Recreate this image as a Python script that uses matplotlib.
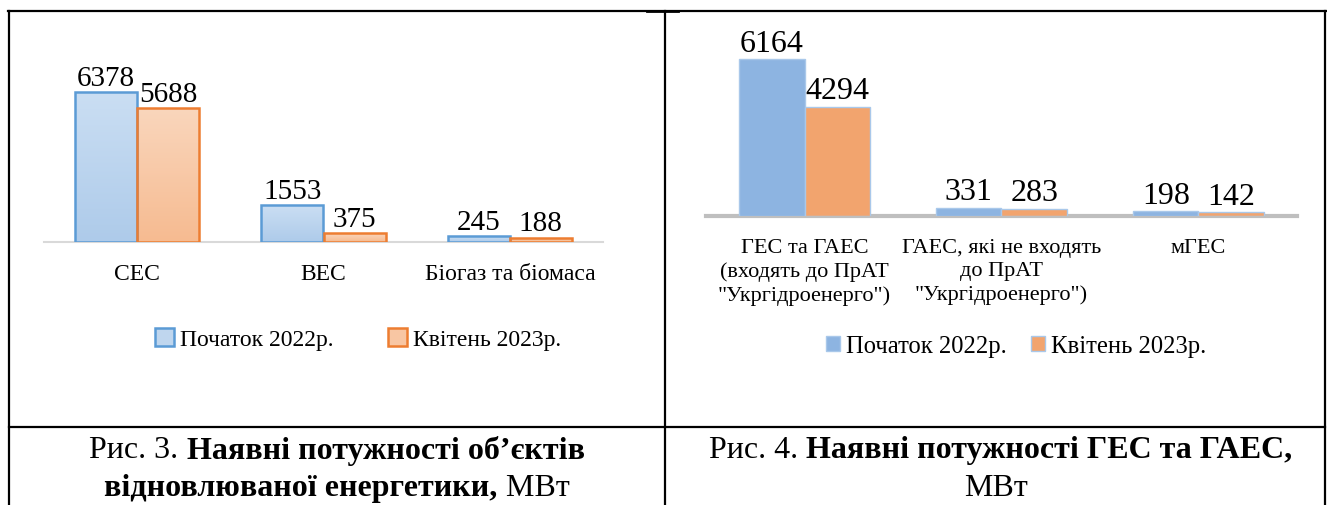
import numpy as np
import matplotlib
matplotlib.use("Agg")
import matplotlib.pyplot as plt
from matplotlib.lines import Line2D
from matplotlib.patches import Patch
from matplotlib.colors import LinearSegmentedColormap

# ---------------- data ----------------
left_categories = ["СЕС", "ВЕС", "Біогаз та біомаса"]
left_start_2022 = [6378, 1553, 245]
left_april_2023 = [5688, 375, 188]

right_categories = ["ГЕС та ГАЕС\n(входять до ПрАТ\n\"Укргідроенерго\")",
                    "ГАЕС, які не входять\nдо ПрАТ\n\"Укргідроенерго\")",
                    "мГЕС"]
right_start_2022 = [6164, 331, 198]
right_april_2023 = [4294, 283, 142]

series_names = ["Початок 2022р.", "Квітень 2023р."]

caption_left = [[("Рис. 3. ", "normal"), ("Наявні потужності об’єктів", "bold")],
                [("відновлюваної енергетики,", "bold"), (" МВт", "normal")]]
caption_right = [[("Рис. 4. ", "normal"), ("Наявні потужності ГЕС та ГАЕС,", "bold")],
                 [("МВт", "normal")]]

# ---------------- figure ----------------
W, H = 1327, 506
DPI = 100
plt.rcParams['font.family'] = ['Liberation Serif', 'DejaVu Serif']
fig = plt.figure(figsize=(W / DPI, H / DPI), dpi=DPI)
fig.patch.set_facecolor("white")


def px_axes(x0, x1, y_top, y_base):
    return fig.add_axes([x0 / W, 1 - y_base / H, (x1 - x0) / W, (y_base - y_top) / H])


def style_axes(ax, base_color, base_lw):
    for s in ax.spines.values():
        s.set_visible(False)
    ax.set_yticks([])
    ax.set_xlim(-0.5, 2.5)
    ax.axhline(0, color=base_color, lw=base_lw, zorder=1, clip_on=False)
    ax.tick_params(axis="x", length=0)
    ax.patch.set_alpha(0)


def gradient_fill(ax, container, c_top, c_bot):
    cmap = LinearSegmentedColormap.from_list("g", [c_bot, c_top])
    grad = np.linspace(0, 1, 64).reshape(-1, 1)
    for p in container.patches:
        x, y = p.get_x(), p.get_y()
        w, h = p.get_width(), p.get_height()
        im = ax.imshow(grad, cmap=cmap, origin="lower", aspect="auto",
                       extent=[x, x + w, y, y + h], zorder=p.get_zorder() - 0.1,
                       interpolation="bilinear")
        im.set_clip_path(p)
    ax.set_aspect("auto")


bw = 0.333

# ---- left chart ----
left_y_top, left_base = 20, 243
left_scale = (243 - 93) / 6378.0  # px per unit
axL = px_axes(44, 603, left_y_top, left_base)
style_axes(axL, "#d9d9d9", 1.5)
xL = np.arange(len(left_categories))
bL1 = axL.bar(xL - bw / 2, left_start_2022, bw, facecolor="none",
              edgecolor="#5b9bd5", linewidth=1.8, zorder=3, label=series_names[0])
bL2 = axL.bar(xL + bw / 2, left_april_2023, bw, facecolor="none",
              edgecolor="#ed7d31", linewidth=1.8, zorder=3, label=series_names[1])
gradient_fill(axL, bL1, "#cadef3", "#aecbea")
gradient_fill(axL, bL2, "#fad6bc", "#f6bb91")
axL.set_xlim(-0.5, 2.5)
axL.set_ylim(0, (left_base - left_y_top) / left_scale)
axL.set_xticks(xL)
axL.set_xticklabels(left_categories, fontsize=17)
axL.tick_params(axis="x", pad=15)
axL.bar_label(bL1, fontsize=21, padding=1)
axL.bar_label(bL2, fontsize=21, padding=1)

hL = [Patch(facecolor="#bfd6ee", edgecolor="#5b9bd5", linewidth=1.8),
      Patch(facecolor="#f8c6a3", edgecolor="#ed7d31", linewidth=1.8)]
fig.legend(hL, series_names, loc="center", bbox_to_anchor=(358 / W, 1 - 340 / H),
           ncol=2, frameon=False, fontsize=17, handlelength=0.8, handleheight=0.8,
           handletextpad=0.25, columnspacing=2.3, borderaxespad=0, borderpad=0)

# ---- right chart ----
right_y_top, right_base = 20, 217
right_scale = (217 - 60) / 6164.0
axR = px_axes(706, 1297, right_y_top, right_base)
style_axes(axR, "#bfbfbf", 3)
xR = np.arange(len(right_categories))
bR1 = axR.bar(xR - bw / 2, right_start_2022, bw, color="#8db4e1",
              edgecolor="#a9c8ea", linewidth=1.0, zorder=3, label=series_names[0])
bR2 = axR.bar(xR + bw / 2, right_april_2023, bw, color="#f2a46e",
              edgecolor="#a9c8ea", linewidth=1.0, zorder=3, label=series_names[1])
axR.set_ylim(0, (right_base - right_y_top) / right_scale)
axR.set_xticks(xR)
axR.set_xticklabels(right_categories, fontsize=16, linespacing=1.28, va="top")
axR.tick_params(axis="x", pad=16)
axR.bar_label(bR1, fontsize=23, padding=1)
axR.bar_label(bR2, fontsize=23, padding=1)
fig.legend([bR1, bR2], series_names, loc="center", bbox_to_anchor=(1016 / W, 1 - 347 / H),
           ncol=2, frameon=False, fontsize=17.7, handlelength=0.57, handleheight=0.57,
           handletextpad=0.25, columnspacing=1.0, borderaxespad=0, borderpad=0)

# ---- table borders ----
def hline(y, x0, x1, lw=1.6):
    fig.add_artist(Line2D([x0 / W, x1 / W], [1 - y / H, 1 - y / H], color="black", lw=lw))


def vline(x, y0, y1, lw=1.6):
    fig.add_artist(Line2D([x / W, x / W], [1 - y0 / H, 1 - y1 / H], color="black", lw=lw))


hline(12, 8, 1327)
hline(12, 647, 678, lw=2.0)
hline(428, 9, 1325)
vline(9, 12, 506)
vline(665, 12, 506)
vline(1325, 12, 506)

# ---- captions with mixed weight ----
fig.canvas.draw()
renderer = fig.canvas.get_renderer()


def mixed_line(parts, cx, cy, fs=23):
    texts = []
    for s, wgt in parts:
        t = fig.text(0, 0, s, fontsize=fs, fontweight=wgt, va="center", ha="left")
        texts.append(t)
    widths = [t.get_window_extent(renderer).width for t in texts]
    total = sum(widths)
    x = cx - total / 2
    for t, w in zip(texts, widths):
        t.set_position((x / W, 1 - cy / H))
        x += w


mixed_line(caption_left[0], 337, 451)
mixed_line(caption_left[1], 337, 489)
mixed_line(caption_right[0], 1001, 451)
mixed_line(caption_right[1], 996, 489)

fig.savefig("out.png", dpi=DPI, facecolor="white")
